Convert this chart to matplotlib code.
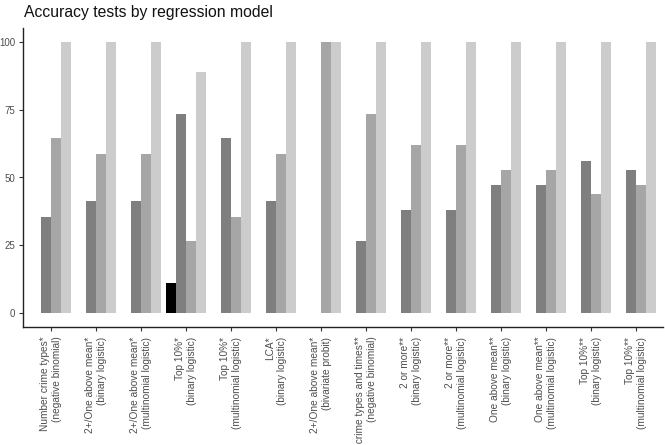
import matplotlib.pyplot as plt
import numpy as np

plt.rcParams['font.family'] = ['Liberation Sans', 'DejaVu Sans']

models = ['Number crime types*\n(negative binomial)',
          '2+/One above mean*\n(binary logistic)',
          '2+/One above mean*\n(multinomial logistic)',
          'Top 10%*\n(binary logistic)',
          'Top 10%*\n(multinomial logistic)',
          'LCA*\n(binary logistic)',
          '2+/One above mean*\n(bivariate probit)',
          'Number crime types and times**\n(negative binomial)',
          '2 or more**\n(binary logistic)',
          '2 or more**\n(multinomial logistic)',
          'One above mean**\n(binary logistic)',
          'One above mean**\n(multinomial logistic)',
          'Top 10%**\n(binary logistic)',
          'Top 10%**\n(multinomial logistic)']

test_a = [0, 0, 0, 11.1, 0, 0, 0, 0, 0, 0, 0, 0, 0, 0]
test_b = [35.3, 41.2, 41.2, 73.5, 64.7, 41.2, 0, 26.5, 38.2, 38.2, 47.1, 47.1, 55.9, 52.9]
test_c = [64.7, 58.8, 58.8, 26.5, 35.3, 58.8, 100, 73.5, 61.8, 61.8, 52.9, 52.9, 44.1, 47.1]
test_d = [100, 100, 100, 88.9, 100, 100, 100, 100, 100, 100, 100, 100, 100, 100]

series = [test_a, test_b, test_c, test_d]
colors = ['#000000', '#7f7f7f', '#a6a6a6', '#cccccc']

fig = plt.figure(figsize=(6.65, 4.45), dpi=100)
ax = fig.add_axes([23 / 665, 1 - 327 / 445, 640 / 665, 299 / 445])

x = np.arange(len(models))
w = 0.225
for i, (vals, c) in enumerate(zip(series, colors)):
    ax.bar(x + (i - 1.5) * w, vals, width=w, color=c, linewidth=0)

ax.set_xlim(-0.62, len(models) - 1 + 0.6)
ax.set_ylim(-5, 105)
ax.set_yticks([0, 25, 50, 75, 100])
ax.set_xticks(x)
ax.set_xticklabels(models, rotation=90, ha='center', va='top',
                   multialignment='right', fontsize=7.3, color='#4d4d4d',
                   linespacing=1.15)
ax.tick_params(axis='y', labelsize=7, labelcolor='#4d4d4d', length=3,
               color='#333333', pad=2.5)
ax.tick_params(axis='x', length=3, color='#333333', pad=4)

for s in ['top', 'right']:
    ax.spines[s].set_visible(False)
for s in ['left', 'bottom']:
    ax.spines[s].set_linewidth(1.0)
    ax.spines[s].set_color('#222222')

fig.text(24 / 665, 1 - 13 / 445, 'Accuracy tests by regression model',
         fontsize=11.3, va='center', ha='left', color='#111111')

fig.savefig('out.png', dpi=100)
